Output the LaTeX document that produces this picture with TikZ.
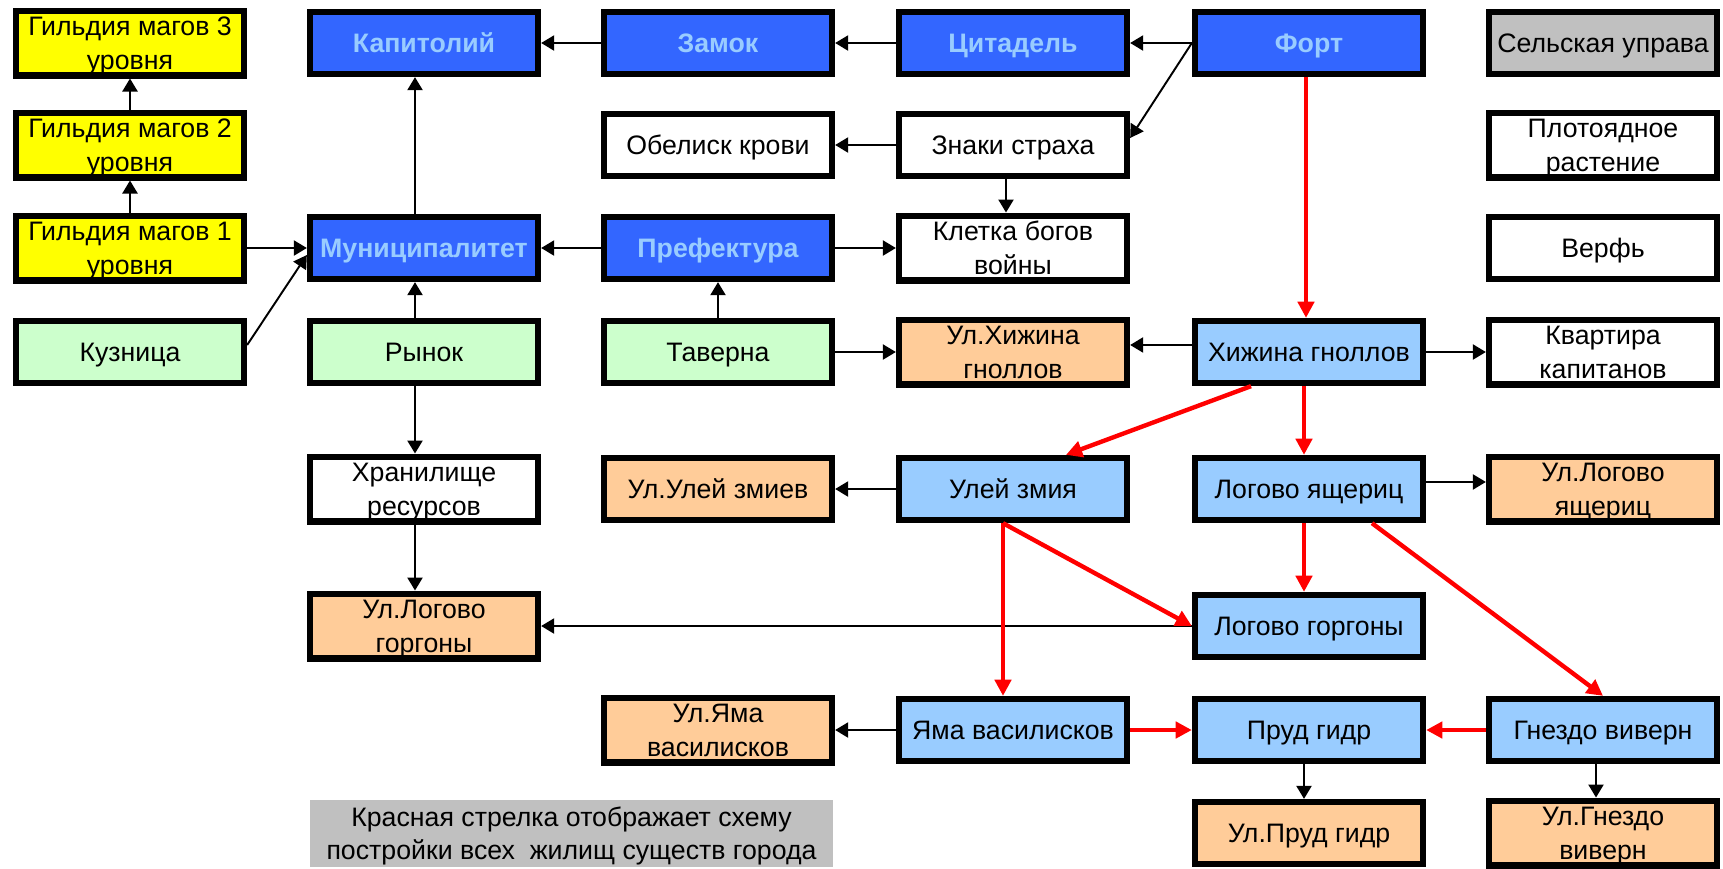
\documentclass[tikz,border=0pt]{standalone}
\usepackage{fontspec}
\setmainfont{Liberation Sans}
\usetikzlibrary{arrows.meta}
\definecolor{keep}{HTML}{3366FF}
\definecolor{keeptext}{HTML}{99CCFF}
\definecolor{dwell}{HTML}{99CCFF}
\definecolor{street}{HTML}{FFCC99}
\definecolor{trade}{HTML}{CCFFCC}
\definecolor{guild}{HTML}{FFFF00}
\definecolor{hall}{HTML}{C0C0C0}
\newcommand{\boxfont}{\fontsize{7.6}{9.4}\selectfont}
\newcommand{\boxstrut}{\rule[-1.8pt]{0pt}{9pt}}

\begin{document}
\begin{tikzpicture}[
  box/.style={draw=black, line width=1.8pt, minimum width=2.28cm, minimum height=0.62cm,
    inner sep=0pt, align=center, font=\boxfont,
    execute at begin node=\boxstrut, execute at end node=\boxstrut},
  twoline/.style={execute at begin node={\rule[-1.8pt]{0pt}{18.4pt}}},
  keepbox/.style={box, fill=keep, text=keeptext, font=\boxfont\bfseries},
  dwellbox/.style={box, fill=dwell},
  streetbox/.style={box, fill=street},
  tradebox/.style={box, fill=trade},
  guildbox/.style={box, fill=guild},
  link/.style={-{Triangle[length=3.7pt,width=4.3pt]}, line width=0.55pt},
  build/.style={-{Triangle[length=4.6pt,width=4.6pt]}, line width=1.25pt, draw=red}]
\useasboundingbox (0,0) rectangle (17.23,-8.68);
% top: guilds and the keep line
\node[guildbox, twoline] (mage3) at (1.30,-0.43) {Гильдия магов 3\\уровня};
\node[guildbox, twoline] (mage2) at (1.30,-1.45) {Гильдия магов 2\\уровня};
\node[guildbox, twoline] (mage1) at (1.30,-2.48) {Гильдия магов 1\\уровня};
\node[tradebox] (forge) at (1.30,-3.52) {Кузница};
\node[keepbox] (capitol) at (4.24,-0.43) {Капитолий};
\node[keepbox] (townhall) at (4.24,-2.48) {Муниципалитет};
\node[tradebox] (market) at (4.24,-3.52) {Рынок};
\node[box, twoline] (store) at (4.24,-4.89) {Хранилище\\ресурсов};
\node[streetbox, twoline] (gorgonst) at (4.24,-6.26) {Ул.Логово\\горгоны};
\node[keepbox] (castle) at (7.18,-0.43) {Замок};
\node[box] (obelisk) at (7.18,-1.45) {Обелиск крови};
\node[keepbox] (prefect) at (7.18,-2.48) {Префектура};
\node[tradebox] (tavern) at (7.18,-3.52) {Таверна};
\node[streetbox] (hivest) at (7.18,-4.89) {Ул.Улей змиев};
\node[streetbox, twoline] (pitst) at (7.18,-7.30) {Ул.Яма\\василисков};
\node[keepbox] (citadel) at (10.13,-0.43) {Цитадель};
\node[box] (fear) at (10.13,-1.45) {Знаки страха};
\node[box, twoline] (cage) at (10.13,-2.48) {Клетка богов\\войны};
\node[streetbox, twoline] (hutst) at (10.13,-3.52) {Ул.Хижина\\гноллов};
\node[dwellbox] (hive) at (10.13,-4.89) {Улей змия};
\node[dwellbox] (pit) at (10.13,-7.30) {Яма василисков};
\node[keepbox] (fort) at (13.09,-0.43) {Форт};
\node[dwellbox] (hut) at (13.09,-3.52) {Хижина гноллов};
\node[dwellbox] (lizard) at (13.09,-4.89) {Логово ящериц};
\node[dwellbox] (gorgon) at (13.09,-6.26) {Логово горгоны};
\node[dwellbox] (pond) at (13.09,-7.30) {Пруд гидр};
\node[streetbox] (pondst) at (13.09,-8.33) {Ул.Пруд гидр};
\node[box, fill=hall] (village) at (16.03,-0.43) {Сельская управа};
\node[box, twoline] (plant) at (16.03,-1.45) {Плотоядное\\растение};
\node[box] (wharf) at (16.03,-2.48) {Верфь};
\node[box, twoline] (captain) at (16.03,-3.52) {Квартира\\капитанов};
\node[streetbox, twoline] (lizardst) at (16.03,-4.89) {Ул.Логово\\ящериц};
\node[dwellbox] (nest) at (16.03,-7.30) {Гнездо виверн};
\node[streetbox, twoline] (nestst) at (16.03,-8.33) {Ул.Гнездо\\виверн};
\node[fill=hall, minimum width=5.23cm, minimum height=0.67cm, inner sep=0pt, align=center,
  font=\boxfont, twoline]
  (note) at (5.715,-8.335) {Красная стрелка отображает схему\\постройки всех\ \ жилищ существ города};
% black: what each building needs
\draw[link] (mage1) -- (mage2);
\draw[link] (mage2) -- (mage3);
\draw[link] (mage1) -- (townhall);
\draw[link] ([yshift=2pt]forge.east) -- ([yshift=-2pt]townhall.west);
\draw[link] ([xshift=-0.09cm]townhall.north) -- ([xshift=-0.09cm]capitol.south);
\draw[link] ([xshift=-0.09cm]market.north) -- ([xshift=-0.09cm]townhall.south);
\draw[link] ([xshift=-0.09cm]market.south) -- ([xshift=-0.09cm]store.north);
\draw[link] ([xshift=-0.09cm]store.south) -- ([xshift=-0.09cm]gorgonst.north);
\draw[link] (castle) -- (capitol);
\draw[link] (citadel) -- (castle);
\draw[link] (fort.west) -- (citadel.east);
\draw[link] (fort.west) -- ([yshift=2pt]fear.east);
\draw[link] (fear) -- (obelisk);
\draw[link] ([xshift=-0.07cm]fear.south) -- ([xshift=-0.07cm]cage.north);
\draw[link] (prefect) -- (townhall);
\draw[link] (prefect) -- (cage);
\draw[link] (tavern) -- (prefect);
\draw[link] (tavern) -- (hutst);
\draw[link] ([yshift=2pt]hut.west) -- ([yshift=2pt]hutst.east);
\draw[link] (hut) -- (captain);
\draw[link] (hive) -- (hivest);
\draw[link] ([yshift=2pt]lizard.east) -- ([yshift=2pt]lizardst.east -| lizardst.west);
\draw[link] (gorgon) -- (gorgonst);
\draw[link] (pit) -- (pitst);
\draw[link] ([xshift=-0.05cm]pond.south) -- ([xshift=-0.05cm]pondst.north);
\draw[link] ([xshift=-0.07cm]nest.south) -- ([xshift=-0.07cm]nestst.north);
% red: dwellings of the town
\draw[build] ([xshift=-0.03cm]fort.south) -- ([xshift=-0.03cm]hut.north);
\draw[build] ([xshift=-0.58cm]hut.south) -- ([xshift=0.53cm]hive.north);
\draw[build] ([xshift=-0.05cm]hut.south) -- ([xshift=-0.05cm]lizard.north);
\draw[build] ([xshift=-0.05cm]lizard.south) -- ([xshift=-0.05cm]gorgon.north);
\draw[build] ([xshift=0.63cm]lizard.south) -- (nest.north);
\draw[build] ([xshift=-0.1cm]hive.south) -- ([xshift=-0.1cm]pit.north);
\draw[build] ([xshift=-0.1cm]hive.south) -- (gorgon.west);
\draw[build] (pit) -- (pond);
\draw[build] (nest) -- (pond);
\end{tikzpicture}
\end{document}
